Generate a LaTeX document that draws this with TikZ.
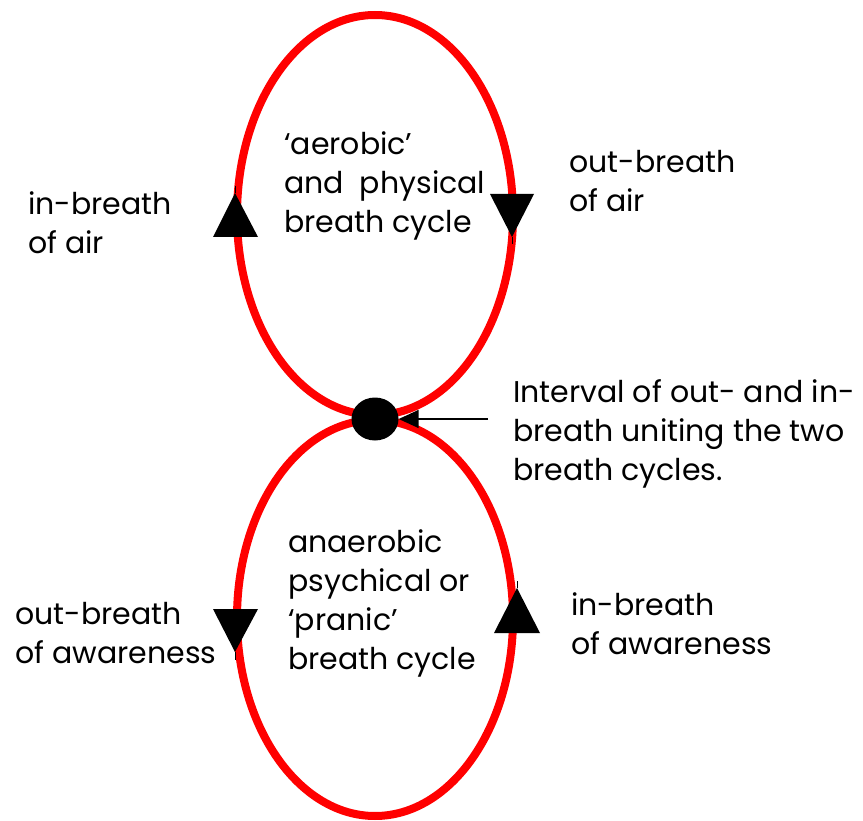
\documentclass[tikz,border=0pt]{standalone}
\usepackage{fontspec}
\setmainfont{Poppins}
\usetikzlibrary{shapes.geometric,arrows.meta}
\begin{document}
\begin{tikzpicture}[x=1pt,y=-1pt,
  loop/.style={draw=red, line width=8pt, ellipse, inner sep=0pt},
  lbl/.style={font=\fontsize{30}{39}\selectfont, align=left, anchor=base west, inner sep=0pt},
  stub/.style={draw=black, line width=1pt}]
\useasboundingbox (0,0) rectangle (863,821);
\node[loop, minimum width=276pt, minimum height=400pt] (upper) at (375,215) {};
\node[loop, minimum width=276pt, minimum height=396pt] (lower) at (375,618) {};
% direction triangles
\fill (235,193) -- (258,237) -- (213,237) -- cycle;
\draw[stub] (235,186) -- (235,193);
\fill (512,237) -- (534,194) -- (490,194) -- cycle;
\draw[stub] (512,237) -- (512,244);
\fill (235,652) -- (258,609) -- (213,609) -- cycle;
\draw[stub] (235,652) -- (235,660);
\fill (517,588) -- (540,633) -- (494,633) -- cycle;
\draw[stub] (517,581) -- (517,588);
% junction
\node[ellipse, fill=black, minimum width=47pt, minimum height=43pt, inner sep=0pt] (dot) at (375,419) {};
\coordinate (tail) at (488,419);
\draw[-{Triangle[length=20pt,width=18pt]}, line width=1.5pt] (tail) -- (dot.east);
% labels (anchor = baseline of the last line)
\node[lbl] (inair) at (28,254) {in-breath\\of air};
\node[lbl] (outair) at (569,212) {out-breath\\of air};
\node[lbl] (aer) at (284,233) {‘aerobic’\\and\ \ physical\\breath cycle};
\node[lbl] (int) at (513,480) {Interval of out- and in-\\breath uniting the two\\breath cycles.};
\node[lbl] (ana) at (288,669) {anaerobic\\psychical or\\‘pranic’\\breath cycle};
\node[lbl] (outaw) at (15,663) {out-breath\\of awareness};
\node[lbl] (inaw) at (571,654) {in-breath\\of awareness};
\end{tikzpicture}
\end{document}
